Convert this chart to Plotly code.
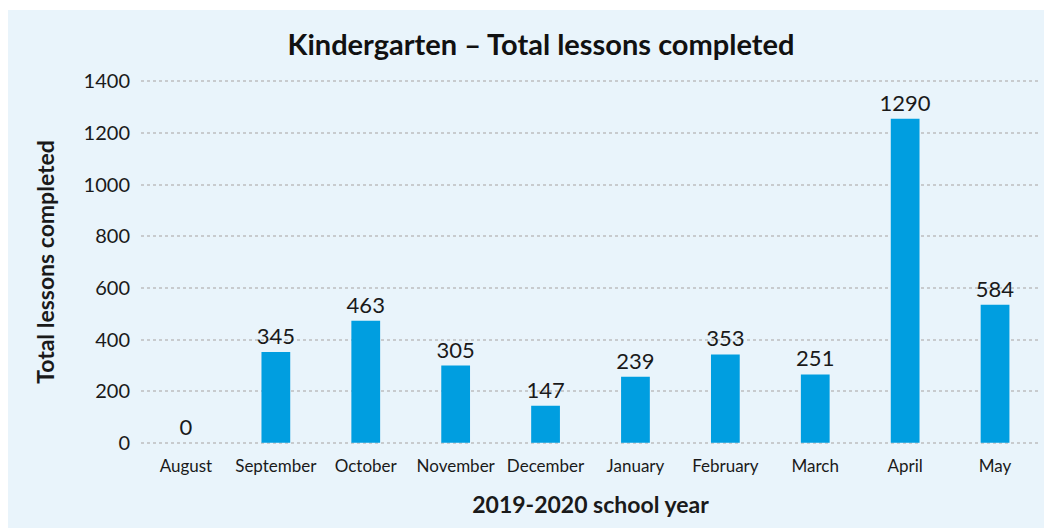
import plotly.graph_objects as go

# data
months = ["August", "September", "October", "November", "December",
          "January", "February", "March", "April", "May"]
bar_heights = [0, 352, 473, 299, 144, 256, 342, 265, 1255, 535]
bar_labels = ["0", "345", "463", "305", "147", "239", "353", "251", "1290", "584"]
y_ticks = [0, 200, 400, 600, 800, 1000, 1200, 1400]

# page body adds an 8px margin, so the figure is 8px smaller than the window
W, H = 1044, 520
L, R, T, B = 133, 12, 68, 80
pw, ph = W - L - R, H - T - B

font = "Lato, 'Noto Sans', sans-serif"

fig = go.Figure()
fig.add_trace(go.Bar(
    x=months, y=bar_heights,
    text=bar_labels, textposition="outside", constraintext="none", textangle=0,
    textfont=dict(size=22, color="#1a1a1a", family=font),
    marker=dict(color="#009ee0", line=dict(width=0)),
    width=0.32, cliponaxis=False,
))

# light blue panel behind everything
fig.add_shape(type="rect", xref="paper", yref="paper", layer="below",
              x0=-L / pw, x1=(W - L) / pw,
              y0=-B / ph - 0.01, y1=(H - 2 - B) / ph,
              fillcolor="#e9f4fb", line_width=0)

fig.update_layout(
    width=W, height=H,
    margin=dict(l=L, r=R, t=T, b=B),
    paper_bgcolor="white", plot_bgcolor="rgba(0,0,0,0)",
    font=dict(family=font, color="#1a1a1a"),
    showlegend=False,
    title=dict(text="<b>Kindergarten – Total lessons completed</b>",
               x=533 / W, xanchor="center", y=1 - 37 / H, yanchor="middle",
               font=dict(size=29, color="#111111")),
)
fig.update_xaxes(tickfont=dict(size=17), ticks="", showline=False,
                 ticklabelstandoff=6, automargin=False,
                 title=dict(text="<b>2019-2020 school year</b>",
                            font=dict(size=23), standoff=21))
# padded range keeps the 0 and 1400 gridlines inside the plot area
fig.update_yaxes(range=[-20, 1420], tickvals=y_ticks, tickfont=dict(size=20),
                 showgrid=True, gridcolor="#c8cbce", griddash="dot", gridwidth=2,
                 zeroline=False, ticks="", ticklabelstandoff=10, automargin=False,
                 title=dict(text="<b>Total lessons completed</b>",
                            font=dict(size=23), standoff=22))

fig.write_html("out.html")
